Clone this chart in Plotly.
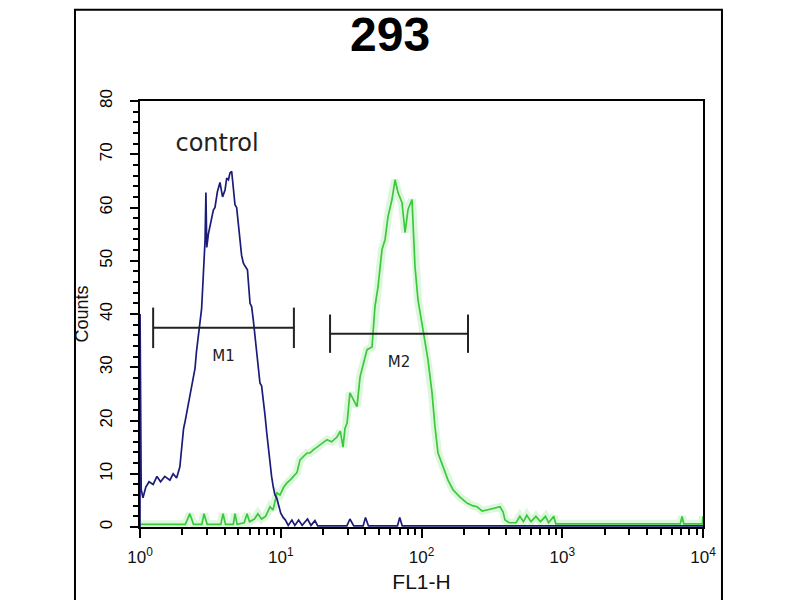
import plotly.graph_objects as go

# control histogram (FL1-H, counts)
ctrl_x = [1.0, 1.001, 1.02, 1.05, 1.10, 1.16, 1.24, 1.32, 1.40, 1.50, 1.63, 1.72, 1.82, 1.92,
          1.98, 2.04, 2.09, 2.18, 2.26, 2.36, 2.46, 2.52, 2.59, 2.66, 2.74, 2.82, 2.90, 2.94,
          2.98, 3.06, 3.14, 3.23, 3.32, 3.41, 3.55, 3.70, 3.86, 4.02, 4.13, 4.25, 4.36, 4.48,
          4.60, 4.73, 4.86, 5.00, 5.13, 5.27, 5.42, 5.57, 5.80, 6.05, 6.21, 6.38, 6.56, 6.74,
          6.93, 7.12, 7.31, 7.52, 7.73, 7.95, 8.17, 8.39, 8.61, 8.85, 9.10, 9.35, 9.61, 10.0,
          10.4, 10.8, 11.3, 12.0, 12.6, 13.4, 14.2, 15.5, 16.4, 17.5, 18.3, 29.5, 31.0, 33.0,
          38.5, 40.0, 42.0, 67.5, 70.0, 73.0, 10000]
ctrl_y = [0, 40, 7.0, 5.5, 7.5, 8.5, 8.0, 9.5, 8.5, 9.5, 8.8, 10.0, 9.2, 11.3,
          15.0, 18.5, 19.8, 22.5, 24.5, 27.5, 29.8, 33.0, 36.0, 38.5, 41.0, 47.5, 54.0, 62.8,
          52.5, 55.0, 56.5, 57.7, 59.5, 60.0, 63.0, 64.7, 62.0, 63.3, 65.5, 65.2, 66.5, 66.8,
          63.0, 60.5, 60.0, 56.0, 54.0, 51.0, 49.6, 49.0, 48.3, 42.0, 41.4, 38.9, 36.0, 32.0,
          30.0, 27.0, 26.5, 24.0, 21.0, 17.7, 15.0, 11.3, 9.5, 7.5, 6.0, 5.5, 4.2, 2.6,
          1.8, 1.3, 0.3, 1.3, 0.3, 1.3, 0.3, 1.5, 0.3, 1.2, 0.2, 0.2, 1.5, 0.2,
          0.2, 1.8, 0.2, 0.2, 1.8, 0.2, 0.2]

# stained sample histogram
samp_x = [1.0, 2.1, 2.26, 2.4, 2.75, 2.85, 3.0, 3.75, 3.89, 4.05, 4.6, 4.73, 4.9, 5.5, 5.76,
          6.0, 6.5, 6.88, 7.3, 7.8, 8.39, 8.81, 9.40, 9.88, 10.5, 11.07, 11.63, 12.3, 13.04,
          13.70, 14.39, 15.37, 16.14, 17.0, 18.10, 19.5, 21.32, 23.0, 25.1, 26.5, 27.7, 28.6,
          29.6, 31.0, 32.5, 34.8, 36.6, 38.5, 41.0, 44.5, 46.7, 49.1, 52.4, 55.1, 57.8, 61.7,
          64.9, 68.1, 72.7, 76.4, 80.2, 85.6, 89.9, 94.4, 102.5, 111.2, 118.8, 124.7, 131.0,
          142.2, 154.3, 167.4, 187.8, 210.5, 230, 247.9, 270, 291.9, 330, 361.2, 380, 391.9,
          420, 470, 500, 530, 560, 600, 650, 700, 760, 800, 870, 900, 6900, 7100, 7300, 9900, 10000]
samp_y = [0.5, 0.5, 2.5, 0.5, 0.5, 2.5, 0.5, 0.5, 2.5, 0.5, 0.5, 2.5, 0.5, 0.8, 2.5,
          1.0, 1.5, 2.5, 1.5, 2.0, 3.8, 3.2, 6.4, 6.0, 7.5, 8.3, 8.8, 9.5, 10.2,
          12.6, 13.2, 13.9, 13.9, 14.5, 15.0, 15.6, 16.4, 16.0, 16.9, 18.0, 15.0, 18.5,
          19.5, 25.2, 24.0, 22.6, 28.2, 30.5, 33.3, 33.8, 41.4, 45.1, 52.1, 54.0, 58.3, 61.5,
          65.2, 62.8, 60.9, 55.3, 59.6, 61.5, 48.9, 42.7, 37.0, 31.4, 25.2, 18.8, 13.9,
          11.3, 8.8, 7.0, 5.6, 4.5, 4.0, 3.8, 3.0, 3.2, 3.5, 3.8, 2.8, 1.3,
          0.8, 0.8, 2.0, 1.0, 2.2, 1.0, 2.0, 1.0, 2.0, 0.8, 2.0, 0.6, 0.6, 2.0, 0.6, 0.6, 2.0]

# marker gates
gate_names = ['M1', 'M2']
gate_lo = [1.24, 22.4]
gate_hi = [12.4, 214]
gate_level = [37.4, 36.3]
gate_half = [3.8, 3.6]

x_tickvals = [1, 10, 100, 1000, 10000]
x_ticktext = ['10<sup>0</sup>', '10<sup>1</sup>', '10<sup>2</sup>', '10<sup>3</sup>', '10<sup>4</sup>']
y_tickvals = [0, 10, 20, 30, 40, 50, 60, 70, 80]

fig = go.Figure()

# soft glow under the green trace (jpeg-like halo)
fig.add_trace(go.Scatter(x=samp_x, y=samp_y, mode='lines',
                         line=dict(color='rgba(120,225,120,0.25)', width=8),
                         hoverinfo='skip'))
fig.add_trace(go.Scatter(x=samp_x, y=samp_y, mode='lines',
                         line=dict(color='#3cc83c', width=1.7), name='sample'))
fig.add_trace(go.Scatter(x=ctrl_x, y=ctrl_y, mode='lines',
                         line=dict(color='#1b1b7a', width=1.7), name='control'))

# gate bars
for name, lo, hi, lev, h in zip(gate_names, gate_lo, gate_hi, gate_level, gate_half):
    fig.add_trace(go.Scatter(
        x=[lo, hi, None, lo, lo, None, hi, hi],
        y=[lev, lev, None, lev - h, lev + h, None, lev - h, lev + h],
        mode='lines', line=dict(color='#222222', width=2), hoverinfo='skip'))
    fig.add_trace(go.Scatter(
        x=[(lo * hi) ** 0.5], y=[lev - 5.6], mode='text', text=[name],
        textfont=dict(family='DejaVu Sans', size=15, color='#222222'), hoverinfo='skip'))

fig.add_trace(go.Scatter(x=[3.53], y=[71.8], mode='text', text=['control'],
                         textfont=dict(family='DejaVu Sans', size=24, color='#222222'),
                         hoverinfo='skip'))

fig.add_annotation(text='<b>293</b>', xref='paper', yref='paper', x=0.444, y=1.155,
                   xanchor='center', yanchor='middle',
                   showarrow=False, font=dict(family='Liberation Sans', size=48, color='black'))

# outer frame (top edge kept just inside the page)
fig.add_shape(type='rect', xref='paper', yref='paper', x0=-0.1155, x1=1.0337, y0=-0.3, y1=1.214,
              line=dict(color='black', width=2))

fig.update_xaxes(type='log', range=[0, 4], tickmode='array', tickvals=x_tickvals, ticktext=x_ticktext,
                 ticks='outside', ticklen=9, tickwidth=2, tickcolor='black', ticklabelstandoff=5,
                 minor=dict(ticks='outside', ticklen=6, tickwidth=2, tickcolor='black', dtick='D1', showgrid=False),
                 showline=True, linecolor='black', linewidth=2, mirror=True,
                 showgrid=False, zeroline=False,
                 tickfont=dict(family='Liberation Sans', size=17, color='#111111'),
                 title=dict(text='FL1-H', font=dict(family='Liberation Sans', size=21, color='#111111'), standoff=8))
fig.update_yaxes(range=[0, 80], tickmode='array', tickvals=y_tickvals, tickangle=-90,
                 ticks='outside', ticklen=8, tickwidth=2, tickcolor='black', ticklabelstandoff=11,
                 minor=dict(ticks='outside', ticklen=5, tickwidth=2, tickcolor='black', dtick=2, showgrid=False),
                 showline=True, linecolor='black', linewidth=2, mirror=True,
                 showgrid=False, zeroline=False,
                 tickfont=dict(family='Liberation Sans', size=17, color='black'),
                 title=dict(text='Counts', font=dict(family='Liberation Sans', size=18, color='#111111'), standoff=4))

# the page has an 8px body margin, so margins are offset to land the plot box where the reference has it
fig.update_layout(
    width=800, height=600,
    paper_bgcolor='white', plot_bgcolor='white',
    margin=dict(l=132, r=105, t=93, b=81),
    showlegend=False
)

fig.write_html("out.html")
